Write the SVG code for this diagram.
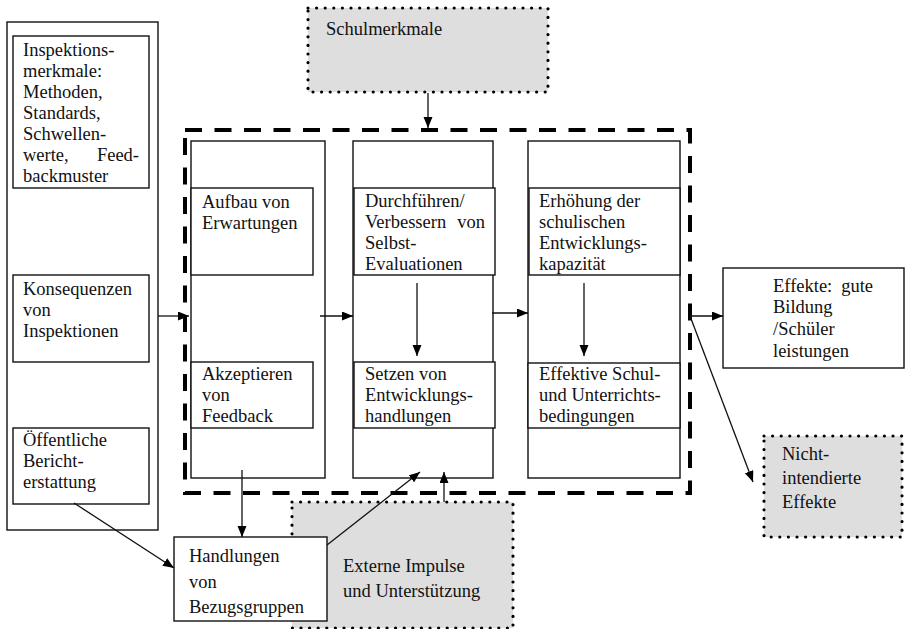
<svg xmlns="http://www.w3.org/2000/svg" width="905" height="629" viewBox="0 0 905 629">
<style>
text{font-family:"Liberation Serif","Times New Roman",serif;font-size:18.5px;fill:#111}
.box{fill:#fff;stroke:#111;stroke-width:1.4}
.dot{fill:#dedede;stroke:#000;stroke-width:3.2;stroke-dasharray:0 8.6;stroke-linecap:round}
.dash{fill:none;stroke:#000;stroke-width:4;stroke-dasharray:17 12.5}
.con{fill:none;stroke:#111;stroke-width:1.3}
</style>
<defs>
<marker id="ah" markerUnits="userSpaceOnUse" markerWidth="12" markerHeight="10" refX="11" refY="4.5" orient="auto">
<path d="M0,0 L11,4.5 L0,9 z" fill="#000"/>
</marker>
</defs>
<rect width="905" height="629" fill="#fff"/>

<g id="left-column">
<rect class="box" x="7" y="22" width="151" height="508"/>
</g>
<g id="inspektionsmerkmale">
<rect class="box" x="13" y="36" width="136" height="152"/>
<text x="23" y="56">Inspektions-</text>
<text x="23" y="77">merkmale:</text>
<text x="23" y="98">Methoden,</text>
<text x="23" y="119">Standards,</text>
<text x="23" y="140">Schwellen-</text>
<text x="23" y="161">werte,</text>
<text x="139" y="161" text-anchor="end">Feed-</text>
<text x="23" y="182">backmuster</text>
</g>
<g id="konsequenzen">
<rect class="box" x="13" y="275" width="136" height="87"/>
<text x="23" y="295">Konsequenzen</text>
<text x="23" y="316">von</text>
<text x="23" y="337">Inspektionen</text>
</g>
<g id="berichterstattung">
<rect class="box" x="13" y="428" width="136" height="76"/>
<text x="23" y="446">Öffentliche</text>
<text x="23" y="467">Bericht-</text>
<text x="23" y="488">erstattung</text>
</g>

<g id="schulmerkmale">
<rect class="dot" x="308" y="8" width="240" height="84"/>
<text x="326" y="35">Schulmerkmale</text>
</g>

<g id="schule-rahmen">
<rect class="dash" x="185" y="130" width="505" height="363"/>
</g>

<g id="spalte1">
<rect class="box" x="191" y="141" width="134" height="337"/>
</g>
<g id="spalte2">
<rect class="box" x="353" y="141" width="140" height="337"/>
</g>
<g id="spalte3">
<rect class="box" x="528" y="141" width="152" height="337"/>
</g>

<g id="aufbau">
<rect class="box" x="191" y="188" width="122" height="87"/>
<text x="202" y="208">Aufbau von</text>
<text x="202" y="229">Erwartungen</text>
</g>
<g id="durchfuehren">
<rect class="box" x="354" y="188" width="141" height="87"/>
<text x="365" y="207">Durchführen/</text>
<text x="365" y="228">Verbessern</text>
<text x="485" y="228" text-anchor="end">von</text>
<text x="365" y="249">Selbst-</text>
<text x="365" y="270">Evaluationen</text>
</g>
<g id="erhoehung">
<rect class="box" x="529" y="188" width="151" height="87"/>
<text x="539" y="207">Erhöhung der</text>
<text x="539" y="228">schulischen</text>
<text x="539" y="249">Entwicklungs-</text>
<text x="539" y="270">kapazität</text>
</g>
<g id="akzeptieren">
<rect class="box" x="191" y="362" width="122" height="66"/>
<text x="202" y="380">Akzeptieren</text>
<text x="202" y="401">von</text>
<text x="202" y="422">Feedback</text>
</g>
<g id="setzen">
<rect class="box" x="354" y="362" width="141" height="66"/>
<text x="365" y="380">Setzen von</text>
<text x="365" y="401">Entwicklungs-</text>
<text x="365" y="422">handlungen</text>
</g>
<g id="effektive">
<rect class="box" x="528" y="363" width="152" height="65"/>
<text x="539" y="380">Effektive Schul-</text>
<text x="539" y="401">und Unterrichts-</text>
<text x="539" y="422">bedingungen</text>
</g>

<g id="effekte">
<rect class="box" x="723" y="268" width="181" height="100"/>
<text x="773" y="292">Effekte:</text>
<text x="873" y="292" text-anchor="end">gute</text>
<text x="773" y="313">Bildung</text>
<text x="773" y="335">/Schüler</text>
<text x="773" y="357">leistungen</text>
</g>
<g id="nicht-intendierte">
<rect class="dot" x="764" y="436" width="138" height="101"/>
<text x="782" y="460">Nicht-</text>
<text x="782" y="484">intendierte</text>
<text x="782" y="508">Effekte</text>
</g>

<g id="externe">
<rect class="dot" x="292" y="502" width="221" height="126"/>
<text x="343" y="572">Externe Impulse</text>
<text x="343" y="597">und Unterstützung</text>
</g>
<g id="handlungen">
<rect class="box" x="174" y="537" width="153" height="84"/>
<text x="189" y="562">Handlungen</text>
<text x="189" y="588">von</text>
<text x="189" y="613">Bezugsgruppen</text>
</g>

<g id="connectors">
<line class="con" x1="428" y1="93" x2="428" y2="128" marker-end="url(#ah)"/>
<line class="con" x1="158" y1="316" x2="189" y2="316" marker-end="url(#ah)"/>
<line class="con" x1="320" y1="316" x2="353" y2="316" marker-end="url(#ah)"/>
<line class="con" x1="492" y1="313" x2="528" y2="313" marker-end="url(#ah)"/>
<line class="con" x1="690" y1="316" x2="723" y2="316" marker-end="url(#ah)"/>
<line class="con" x1="690" y1="316" x2="753" y2="482" marker-end="url(#ah)"/>
<line class="con" x1="417" y1="283" x2="417" y2="356" marker-end="url(#ah)"/>
<line class="con" x1="584" y1="283" x2="584" y2="356" marker-end="url(#ah)"/>
<line class="con" x1="242" y1="470" x2="242" y2="537" marker-end="url(#ah)"/>
<line class="con" x1="327" y1="545" x2="420" y2="472" marker-end="url(#ah)"/>
<line class="con" x1="444" y1="502" x2="444" y2="472" marker-end="url(#ah)"/>
<line class="con" x1="74" y1="503" x2="174" y2="568" marker-end="url(#ah)"/>
</g>
</svg>
